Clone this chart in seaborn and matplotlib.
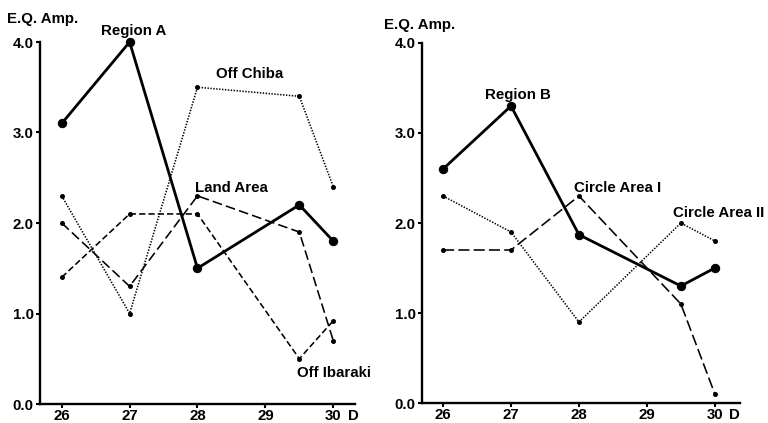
import matplotlib
matplotlib.use("Agg")
import matplotlib.pyplot as plt
from matplotlib.transforms import ScaledTranslation
import seaborn as sns
import pandas as pd

# Observation days (day 29.5 is a half-day reading)
days = [26, 27, 28, 29.5, 30]

# Left panel: Region A and its sub-areas
region_a = [3.1, 4.0, 1.5, 2.2, 1.8]
off_chiba = [2.3, 1.0, 3.5, 3.4, 2.4]
land_area = [2.0, 1.3, 2.3, 1.9, 0.7]
off_ibaraki = [1.4, 2.1, 2.1, 0.5, 0.92]

# Right panel: Region B and its circle areas
region_b = [2.6, 3.3, 1.87, 1.3, 1.5]
circle_area_1 = [1.7, 1.7, 2.3, 1.1, 0.1]
circle_area_2 = [2.3, 1.9, 0.9, 2.0, 1.8]

x_ticks = [26, 27, 28, 29, 30]
x_tick_labels = ["26", "27", "28", "29", "30"]
y_ticks = [0, 1, 2, 3, 4]
y_tick_labels = ["0.0", "1.0", "2.0", "3.0", "4.0"]

sns.set_style("ticks")
plt.rcParams["font.family"] = ["Liberation Sans", "DejaVu Sans"]
plt.rcParams["font.weight"] = "bold"
plt.rcParams["text.color"] = "black"
plt.rcParams["lines.scale_dashes"] = False

FS = 10.8
W, H = 768, 423
fig = plt.figure(figsize=(W / 100, H / 100), dpi=100)
fig.patch.set_facecolor("white")

ax_l = fig.add_axes([40 / W, 1 - 404 / H, (355 - 40) / W, (404 - 42) / H])
ax_r = fig.add_axes([422 / W, 1 - 403 / H, (740 - 422) / W, (403 - 43) / H])

SOLID = dict(color="black", linewidth=2.0, marker="o", markersize=6,
             markeredgecolor="black", markerfacecolor="black", clip_on=False)
THIN = dict(color="black", linewidth=1.15, marker="o", markersize=2.8,
            markeredgecolor="black", markerfacecolor="black", clip_on=False)


def draw(ax, values, style, linestyle):
    df = pd.DataFrame({"day": days, "amp": values})
    sns.lineplot(data=df, x="day", y="amp", ax=ax, linestyle=linestyle,
                 legend=False, **style)


draw(ax_l, off_chiba, THIN, (0, (1.0, 1.1)))
draw(ax_l, land_area, THIN, (0, (7, 3)))
draw(ax_l, off_ibaraki, THIN, (0, (4.5, 2.2)))
draw(ax_l, region_a, SOLID, "-")

draw(ax_r, circle_area_2, THIN, (0, (1.0, 1.1)))
draw(ax_r, circle_area_1, THIN, (0, (8, 3)))
draw(ax_r, region_b, SOLID, "-")

for ax, xr in ((ax_l, (25.68, 30.32)), (ax_r, (25.69, 30.37))):
    ax.set_xlim(*xr)
    ax.set_ylim(0, 4.0)
    ax.set_xticks(x_ticks)
    ax.set_xticklabels(x_tick_labels)
    ax.set_yticks(y_ticks)
    ax.set_yticklabels(y_tick_labels)
    ax.set_xlabel("")
    ax.set_ylabel("")
    for side in ("top", "right"):
        ax.spines[side].set_visible(False)
    for side in ("left", "bottom"):
        ax.spines[side].set_linewidth(1.7)
        ax.spines[side].set_color("black")
    ax.tick_params(axis="both", direction="out", length=3, width=1.5,
                   colors="black", labelcolor="black", labelsize=FS)
    ax.tick_params(axis="x", pad=0.5)
    ax.tick_params(axis="y", pad=1.5)
    for t in ax.get_xticklabels() + ax.get_yticklabels():
        t.set_fontweight("bold")
    # day unit after the last tick label, on the tick-label baseline
    ax.text(30.21, 0, "D", ha="left", va="top", fontsize=FS,
            fontweight="bold", clip_on=False,
            transform=ax.transData + ScaledTranslation(0, -3.5 / 72,
                                                       fig.dpi_scale_trans))
    ax.set_facecolor("white")

# Axis titles
fig.text(7 / W, 1 - 19 / H, "E.Q. Amp.", ha="left", va="center",
         fontsize=FS, fontweight="bold")
fig.text(384 / W, 1 - 25 / H, "E.Q. Amp.", ha="left", va="center",
         fontsize=FS, fontweight="bold")

# Series labels
lab = dict(fontsize=FS, fontweight="bold", clip_on=False)
fig.text(134 / W, 1 - 31 / H, "Region A", ha="center", va="center", **lab)
fig.text(250 / W, 1 - 74 / H, "Off Chiba", ha="center", va="center", **lab)
fig.text(231 / W, 1 - 188 / H, "Land Area", ha="center", va="center", **lab)
fig.text(297 / W, 1 - 373 / H, "Off Ibaraki", ha="left", va="center", **lab)
fig.text(518 / W, 1 - 95 / H, "Region B", ha="center", va="center", **lab)
fig.text(574 / W, 1 - 188 / H, "Circle Area I", ha="left", va="center", **lab)
fig.text(673 / W, 1 - 213 / H, "Circle Area II", ha="left", va="center", **lab)

fig.savefig("out.png", dpi=100, facecolor="white")
